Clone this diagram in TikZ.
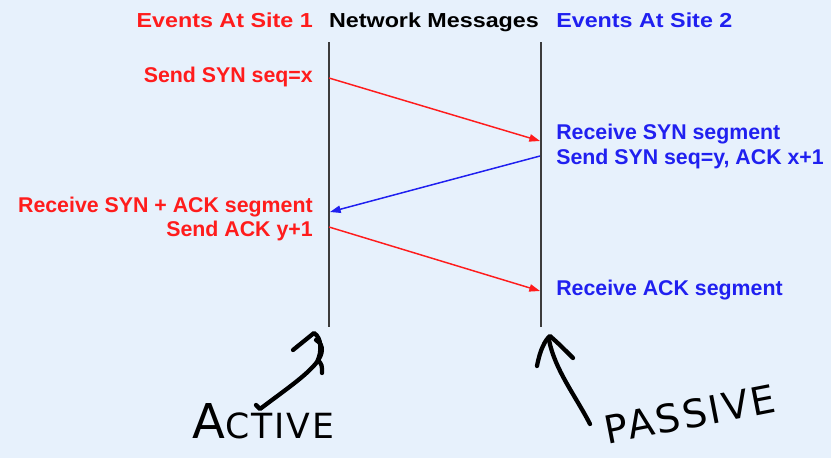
\documentclass[tikz,border=0pt]{standalone}
\usepackage{fontspec}
\setmainfont{Liberation Sans}
\newfontfamily\headfont{Liberation Sans Bold}[FakeStretch=1.15]
\newfontfamily\handfont{DejaVu Sans}[LetterSpace=6]
\usetikzlibrary{arrows.meta}

\definecolor{bgblue}{RGB}{231,241,252}
\definecolor{siteone}{RGB}{255,28,28}
\definecolor{sitetwo}{RGB}{32,32,240}
\definecolor{lifeline}{RGB}{60,60,60}

\begin{document}
\begin{tikzpicture}[x=0.75pt,y=-0.75pt,
  head/.style={inner sep=0pt, font=\headfont\fontsize{15.2}{18}\selectfont},
  evt/.style={inner sep=0pt, font=\fontsize{16}{19}\selectfont\bfseries},
  life/.style={lifeline, line width=1.5pt},
  msg/.style={line width=1.1pt, -{Triangle[length=8pt,width=5.5pt]}},
  hand/.style={black, line width=3.2pt, line cap=round, line join=round}]

% background
\fill[bgblue] (0,0) rectangle (831,458);
\useasboundingbox (0,0) rectangle (831,458);

% column headings
\node[head, text=siteone, anchor=base east] (h1) at (313,27) {Events At Site 1};
\node[head, text=black, anchor=base] (hn) at (434,27) {Network Messages};
\node[head, text=sitetwo, anchor=base west] (h2) at (556,27) {Events At Site 2};

% time lines of the two sites
\coordinate (t1) at (328.5,42);
\coordinate (b1) at (328.5,327);
\coordinate (t2) at (540.5,42);
\coordinate (b2) at (540.5,327);
\draw[life] (t1) -- (b1);
\draw[life] (t2) -- (b2);

% message end points on the time lines
\coordinate (a1) at (329,78);
\coordinate (a2) at (540,141);
\coordinate (c1) at (540,156);
\coordinate (c2) at (330,212);
\coordinate (d1) at (329,227);
\coordinate (d2) at (540,291);

% events
\node[evt, text=siteone, anchor=base east] (e1) at (313,82) {Send SYN seq=x};
\node[evt, text=sitetwo, anchor=base west] (e2) at (556,139) {Receive SYN segment};
\node[evt, text=sitetwo, anchor=base west] (e3) at (556,164) {Send SYN seq=y, ACK x+1};
\node[evt, text=siteone, anchor=base east] (e4) at (313,212) {Receive SYN + ACK segment};
\node[evt, text=siteone, anchor=base east] (e5) at (313,236) {Send ACK y+1};
\node[evt, text=sitetwo, anchor=base west] (e6) at (556,295) {Receive ACK segment};

% messages
\draw[msg, siteone] (a1) -- (a2);
\draw[msg, sitetwo] (c1) -- (c2);
\draw[msg, siteone] (d1) -- (d2);

% hand-written notes
\node[inner sep=0pt, anchor=base west] (act) at (192,438)
  {\handfont\fontsize{36}{36}\selectfont A\fontsize{26}{26}\selectfont CTIVE};
\draw[hand] (256,405) -- (260,409) .. controls (285,390) and (306,376) .. (317,362)
  .. controls (322,352) and (322,338) .. (314,333) -- (293,350);
\draw[hand] (316,340) .. controls (325,345) and (322,355) .. (318,360)
  .. controls (322,365) .. (322,373);

\node[inner sep=0pt, rotate=11] (pas) at (690,414)
  {\handfont\fontsize{29}{29}\selectfont PASSIVE};
\draw[hand] (590,424) .. controls (575,395) and (555,370) .. (549,340);
\draw[hand] (537,366) .. controls (540,350) and (545,340) .. (550,336)
  .. controls (560,345) .. (573,358);
\end{tikzpicture}
\end{document}
